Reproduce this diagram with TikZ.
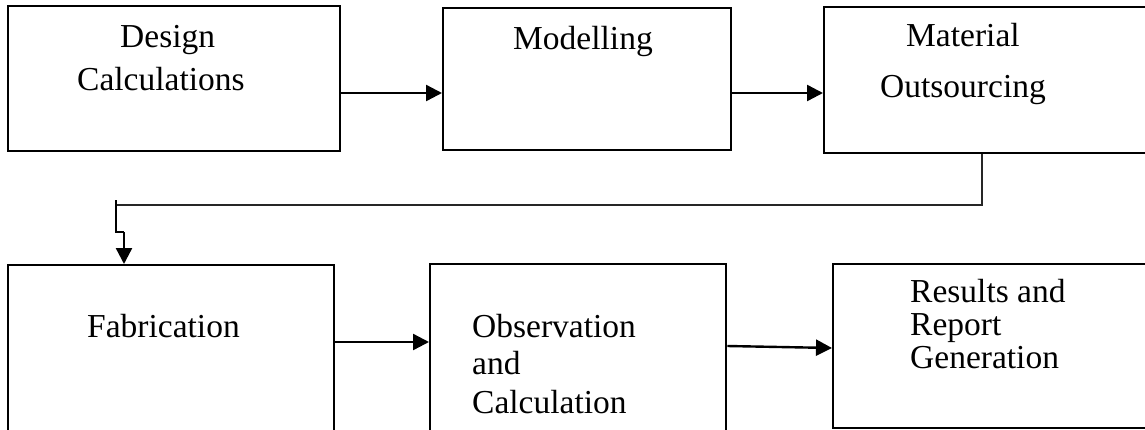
\documentclass[tikz,border=0pt]{standalone}
\usepackage{fontspec}
\setmainfont{Liberation Serif}
\usetikzlibrary{arrows.meta}
\begin{document}
\begin{tikzpicture}[x=1pt,y=-1pt,
  box/.style={draw=black,line width=2.4pt,anchor=north west,inner sep=0pt,fill=none},
  txt/.style={anchor=base west,inner sep=0pt,font=\fontsize{33.5}{38}\selectfont},
  arr/.style={line width=2.4pt,-{Triangle[length=16pt,width=16pt]}},
  thin/.style={line width=1.4pt,draw=black!85}]
\useasboundingbox (0,0) rectangle (1145,429);
\clip (0,0) rectangle (1145,429);
% boxes
\node[box,minimum width=332pt,minimum height=145pt] (b1) at (7,5) {};
\node[box,minimum width=288pt,minimum height=142pt] (b2) at (442,7) {};
\node[box,minimum width=335pt,minimum height=146pt] (b3) at (823,6) {};
\node[box,minimum width=326pt,minimum height=190pt] (b4) at (7,264) {};
\node[box,minimum width=296pt,minimum height=190pt] (b5) at (429,263) {};
\node[box,minimum width=325pt,minimum height=164pt] (b6) at (832,263) {};
% texts
\node[txt] (t1a) at (120,47) {Design};
\node[txt] (t1b) at (77,90) {Calculations};
\node[txt] (t2) at (513,49) {Modelling};
\node[txt] (t3a) at (906,46) {Material};
\node[txt] (t3b) at (880,97) {Outsourcing};
\node[txt] (t4) at (87,337) {Fabrication};
\node[txt] (t5a) at (472,337) {Observation};
\node[txt] (t5b) at (472,374) {and};
\node[txt] (t5c) at (472,413) {Calculation};
\node[txt] (t6a) at (910,302) {Results and};
\node[txt] (t6b) at (910,335) {Report};
\node[txt] (t6c) at (910,368) {Generation};
% connectors
\draw[arr] (b1.east |- 0,93) -- (b2.west |- 0,93);
\draw[arr] (b2.east |- 0,93) -- (b3.west |- 0,93);
\coordinate (c1) at (982,205);
\coordinate (c2) at (116,205);
\coordinate (c3) at (116,200);
\coordinate (c4) at (116,232);
\coordinate (c5) at (124,232);
\draw[thin] (b3.south -| c1) -- (c1) -- (c2);
\draw[line width=2.4pt] (c3) -- (c4) -- (c5);
\draw[arr] (c5) -- (b4.north -| c5);
\draw[arr] (b4.east |- 0,342) -- (b5.west |- 0,342);
\draw[arr] (b5.east |- 0,346) -- (b6.west |- 0,348);
\end{tikzpicture}
\end{document}
